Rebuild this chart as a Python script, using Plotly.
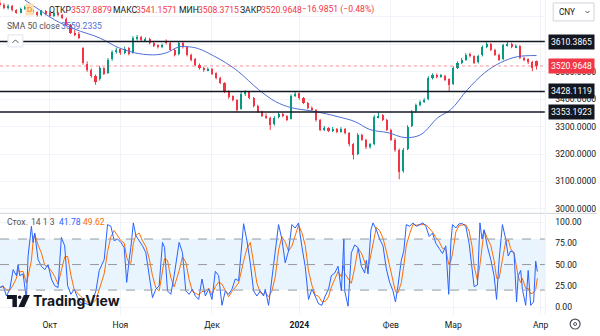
import plotly.graph_objects as go
import pandas as pd

W, H = 600, 336

# ---------------- data ----------------
# trading-day index 0 = mid Sep 2023, 12 = 9 Oct 2023, 129 = 29 Mar 2024
opens = [3752,3745,3731,3741,3724,3716,3730,3737,3726,3717,3706,3723,3716,3703,3716,3708,3694,3670,3641,3636,
         3587,3530,3508,3484,3472,3512,3495,3545,3572,3582,3568,3586,3568,3622,3628,3615,3621,3606,3596,3590,
         3612,3604,3581,3564,3606,3590,3561,3545,3526,3514,3506,3510,3494,3477,3458,3428,3410,3397,3366,3418,
         3425,3404,3375,3354,3339,3332,3308,3334,3346,3339,3328,3412,3421,3404,3386,3368,3360,3324,3288,3295,
         3284,3292,3281,3292,3277,3236,3200,3270,3252,3226,3236,3335,3341,3324,3288,3252,3214,3138,3218,3302,
         3356,3379,3390,3399,3477,3490,3481,3486,3472,3456,3514,3532,3543,3563,3557,3534,3560,3590,3601,3579,
         3561,3546,3597,3603,3590,3594,3550,3545,3535,3537.8879]
highs = [3760,3750,3746,3744,3728,3734,3741,3739,3729,3720,3726,3725,3722,3719,3718,3711,3698,3674,3652,3645,
         3590,3538,3512,3490,3522,3516,3550,3578,3588,3586,3592,3590,3630,3634,3631,3626,3624,3610,3600,3603,
         3618,3608,3585,3612,3610,3594,3566,3550,3530,3518,3516,3514,3498,3482,3462,3432,3414,3400,3428,3432,
         3429,3408,3380,3358,3348,3336,3338,3352,3350,3342,3418,3428,3424,3408,3390,3374,3364,3328,3302,3298,
         3299,3295,3298,3295,3280,3240,3276,3274,3256,3240,3342,3352,3345,3328,3292,3258,3220,3222,3305,3360,
         3384,3396,3404,3484,3494,3493,3492,3489,3476,3520,3538,3550,3568,3570,3560,3562,3596,3608,3605,3584,
         3566,3602,3610,3606,3600,3597,3555,3549,3540,3541.1571]
lows = [3738,3728,3727,3720,3712,3714,3726,3720,3713,3702,3704,3706,3699,3700,3702,3692,3666,3638,3630,3619,
        3526,3500,3478,3453,3468,3488,3492,3540,3566,3562,3564,3560,3566,3614,3610,3610,3600,3590,3585,3586,
        3600,3576,3556,3560,3585,3556,3538,3520,3508,3500,3502,3488,3472,3455,3422,3402,3392,3352,3362,3412,
        3400,3370,3350,3335,3328,3288,3304,3330,3334,3320,3326,3408,3398,3382,3364,3356,3318,3283,3284,3280,
        3280,3276,3278,3272,3228,3180,3196,3248,3218,3220,3232,3330,3320,3284,3248,3208,3108,3132,3214,3298,
        3350,3374,3386,3396,3472,3476,3478,3466,3430,3452,3510,3528,3540,3552,3528,3530,3556,3586,3576,3558,
        3540,3542,3592,3586,3586,3546,3538,3528,3502,3508.3715]
closes = [3744,3733,3740,3725,3718,3729,3736,3725,3718,3707,3722,3711,3704,3715,3707,3696,3671,3642,3635,3624,
          3533,3507,3485,3464,3515,3493,3544,3573,3580,3569,3584,3565,3624,3627,3616,3620,3605,3595,3591,3598,
          3605,3580,3562,3605,3591,3562,3544,3525,3515,3507,3511,3493,3478,3460,3427,3409,3398,3362,3420,3427,
          3405,3376,3355,3340,3333,3307,3333,3347,3340,3325,3413,3420,3405,3387,3369,3362,3325,3289,3296,3285,
          3293,3282,3293,3278,3235,3198,3271,3253,3224,3235,3336,3340,3325,3289,3253,3216,3136,3216,3300,3355,
          3380,3391,3398,3478,3489,3482,3485,3471,3453,3515,3533,3544,3562,3558,3533,3558,3591,3602,3580,3562,
          3544,3598,3602,3591,3595,3551,3544,3536,3515,3520.9648]

# SMA 50 line read at points (day index, value)
sma_t = [6.0, 9.6, 13.2, 17.9, 23.9, 28.7, 33.5, 37.6, 40.0, 43.1, 45.5, 47.8, 51.4, 54.3, 57.4, 62.2, 66.3,
         70.1, 75.8, 81.3, 85.4, 89.0, 93.3, 97.4, 101.2, 105.3, 108.4, 112.4, 116.5, 120.3, 124.4, 129.0]
sma_v = [3762, 3725, 3689, 3656, 3624, 3587, 3566, 3562, 3569, 3591, 3591, 3584, 3558, 3533, 3500, 3435, 3391,
         3369, 3355, 3336, 3318, 3289, 3278, 3260, 3271, 3333, 3362, 3435, 3496, 3533, 3555, 3559.2335]

# Stochastic %K read at points (day index, value)
stoch_t = [0.0,0.8,1.6,2.4,3.2,4.0,4.4,4.8,5.6,6.4,6.8,7.6,8.0,8.4,9.2,10.0,10.8,11.6,12.4,13.2,14.0,14.8,15.6,
           16.3,17.1,17.9,18.7,19.5,20.7,21.9,23.1,23.9,25.1,25.9,26.7,27.5,28.3,29.1,29.9,30.5,31.1,31.5,32.1,
           32.7,33.5,34.3,35.1,35.9,36.7,37.5,38.3,39.1,39.6,40.3,41.1,41.9,43.1,43.9,44.7,45.5,46.3,47.0,47.8,
           48.6,49.4,50.2,51.0,51.8,52.6,53.4,54.2,55.0,55.8,56.6,57.4,58.6,59.4,60.2,61.0,61.8,62.6,63.4,63.8,
           64.6,65.4,66.2,67.0,67.8,68.6,69.4,70.2,71.0,71.8,72.6,73.4,74.2,75.0,75.8,76.6,77.4,78.2,79.0,79.7,
           80.5,81.3,82.1,82.7,82.9,83.7,84.5,85.3,86.1,86.9,87.7,88.1,88.5,89.2,89.7,90.5,91.3,92.1,92.9,93.7,
           94.5,95.1,95.7,96.5,97.1,97.7,98.5,99.3,100.1,100.9,101.7,102.4,103.2,104.0,104.8,105.6,106.4,107.2,
           107.9,108.4,108.8,109.6,110.4,111.2,112.0,112.8,113.5,114.0,114.8,115.4,115.9,116.4,117.2,118.0,118.8,
           119.4,120.0,120.8,121.6,122.2,122.8,123.6,124.2,124.6,125.2,125.6,126.4,127.0,127.6,128.3,128.8,129.2]
stoch_k = [23,25,13,21,44,37,50,37,39,9,60,95,76,87,56,48,44,50,33,25,23,82,72,
           25,15,21,11,5,4,2,19,43,56,97,95,78,80,76,70,29,56,70,99,
           84,78,72,64,36,11,21,25,76,70,19,15,37,76,64,19,15,21,13,9,
           33,13,21,9,42,37,2,19,15,21,33,31,98,78,52,19,13,19,13,21,
           2,33,71,97,80,52,66,97,93,99,71,48,9,21,13,4,2,13,21,37,
           40,48,19,80,19,1,64,73,70,48,40,55,39,91,99,91,80,72,45,29,
           19,6,25,55,66,97,95,99,95,97,99,95,83,87,75,69,63,72,
           15,75,97,93,98,98,95,75,45,24,26,99,80,91,71,56,37,
           9,55,97,80,60,66,64,6,37,43,21,2,43,2,6,54,41.78]

levels = [3610.3865, 3428.1119, 3353.1923]
last_price = 3520.9648

month_idx = [12, 29, 51, 72, 94, 109, 130]
month_txt = ["Окт", "Ноя", "Дек", "<b>2024</b>", "Фев", "Мар", "Апр"]

price_ticks = [3000, 3100, 3200, 3300, 3400, 3500, 3600, 3700]
price_tick_txt = ["3000.0000", "3100.0000", "3200.0000", "3300.0000", "3400.0000", "3500.0000", "", ""]
stoch_ticks = [0, 25, 50, 75, 100]
stoch_tick_txt = ["0.00", "25.00", "50.00", "75.00", "100.00"]

# ---------------- derived ----------------
FONT = "Roboto, Arial, sans-serif"
TXT = "#131722"
RED = "#F23645"
GREEN = "#089981"
BLUE = "#2962FF"
ORANGE = "#FF6D00"
FS = 8.6

idx = list(range(len(closes)))
stoch_d = pd.Series(stoch_k).rolling(3, min_periods=1).mean().tolist()
up = [c >= o for o, c in zip(opens, closes)]
body_base = [min(o, c) for o, c in zip(opens, closes)]
body_len = [max(abs(c - o), 1.2) for o, c in zip(opens, closes)]
body_col = [GREEN if u else RED for u in up]

def wick_xy(want_up):
    xs, ys = [], []
    for i, u in enumerate(up):
        if u == want_up:
            xs += [i, i, None]
            ys += [lows[i], highs[i], None]
    return xs, ys

# ---------------- helpers ----------------
def fx(x):
    return x / W

def fy(y):
    return 1 - y / H

def path(pts):
    return "M " + " L ".join(f"{fx(x):.5f},{fy(y):.5f}" for x, y in pts) + " Z"

PRICE_TOP, PRICE_BOT = 0, 214
ST_TOP, ST_BOT = 214, 316
PLOT_R = 548

fig = go.Figure()

for want_up, col in ((True, GREEN), (False, RED)):
    wx, wy = wick_xy(want_up)
    fig.add_trace(go.Scatter(x=wx, y=wy, mode="lines", line=dict(color=col, width=1),
                             xaxis="x", yaxis="y", showlegend=False, hoverinfo="skip"))
fig.add_trace(go.Bar(x=idx, y=body_len, base=body_base, width=0.5, marker=dict(color=body_col, line=dict(width=0)),
                     xaxis="x", yaxis="y", showlegend=False, hoverinfo="skip"))

fig.add_trace(go.Scatter(x=sma_t, y=sma_v, mode="lines", line=dict(color="#4f6fd6", width=1, shape="spline"),
                         xaxis="x", yaxis="y", showlegend=False, hoverinfo="skip"))

fig.add_trace(go.Scatter(x=stoch_t, y=stoch_d, mode="lines", line=dict(color=ORANGE, width=1),
                         xaxis="x2", yaxis="y2", showlegend=False, hoverinfo="skip"))
fig.add_trace(go.Scatter(x=stoch_t, y=stoch_k, mode="lines", line=dict(color=BLUE, width=1),
                         xaxis="x2", yaxis="y2", showlegend=False, hoverinfo="skip"))

xr = [0.05, 131.1]
shapes = []
shapes.append(dict(type="rect", xref="paper", yref="y2", x0=0, x1=fx(PLOT_R), y0=20, y1=80,
                   fillcolor="rgba(33,150,243,0.10)", line=dict(width=0), layer="below"))
for lv in (80, 50, 20):
    shapes.append(dict(type="line", xref="paper", yref="y2", x0=0, x1=fx(PLOT_R), y0=lv, y1=lv,
                       line=dict(color="#9598a1", width=1, dash="dash")))
for lv in levels:
    shapes.append(dict(type="line", xref="paper", yref="y", x0=0, x1=fx(PLOT_R), y0=lv, y1=lv,
                       line=dict(color=TXT, width=1.6)))
shapes.append(dict(type="line", xref="paper", yref="y", x0=0, x1=fx(PLOT_R), y0=last_price, y1=last_price,
                   line=dict(color="rgba(242,54,69,0.55)", width=1, dash="dot")))
shapes.append(dict(type="line", xref="paper", yref="paper", x0=0, x1=1, y0=fy(ST_TOP), y1=fy(ST_TOP),
                   line=dict(color="#d1d4dc", width=1)))
shapes.append(dict(type="line", xref="paper", yref="paper", x0=fx(PLOT_R), x1=fx(PLOT_R), y0=fy(ST_BOT), y1=1,
                   line=dict(color="#eef0f4", width=1)))
# collapse button
shapes.append(dict(type="rect", xref="paper", yref="paper", x0=fx(8), x1=fx(23), y0=fy(47), y1=fy(35),
                   fillcolor="white", line=dict(color="#e0e3eb", width=1), layer="above"))
shapes.append(dict(type="path", xref="paper", yref="paper",
                   path=f"M {fx(12.5)},{fy(43)} L {fx(15.5)},{fy(40)} L {fx(18.5)},{fy(43)}",
                   line=dict(color="#50535e", width=1), layer="above"))
# CNY box
shapes.append(dict(type="rect", xref="paper", yref="paper", x0=fx(556), x1=fx(597), y0=fy(21), y1=fy(3),
                   fillcolor="white", line=dict(color="#d1d4dc", width=1), layer="above"))
shapes.append(dict(type="path", xref="paper", yref="paper",
                   path=f"M {fx(588.5)},{fy(11)} L {fx(590.5)},{fy(13)} L {fx(592.5)},{fy(11)}",
                   line=dict(color="#50535e", width=1), layer="above"))
# gear icon
shapes.append(dict(type="circle", xref="paper", yref="paper", x0=fx(573), x1=fx(583), y0=fy(330), y1=fy(320),
                   line=dict(color="#50535e", width=1.2), layer="above"))
shapes.append(dict(type="circle", xref="paper", yref="paper", x0=fx(576.5), x1=fx(579.5), y0=fy(326.5), y1=fy(323.5),
                   line=dict(color="#50535e", width=1), layer="above"))
# TradingView logo mark
shapes.append(dict(type="path", xref="paper", yref="paper",
                   path=path([(7, 296), (17, 296), (17, 308), (12.5, 308), (12.5, 300), (7, 300)]),
                   fillcolor=TXT, line=dict(width=0), layer="above"))
shapes.append(dict(type="circle", xref="paper", yref="paper", x0=fx(18), x1=fx(21.6), y0=fy(300), y1=fy(296.4),
                   fillcolor=TXT, line=dict(width=0), layer="above"))
shapes.append(dict(type="path", xref="paper", yref="paper",
                   path=path([(24, 296), (30, 296), (24.5, 308), (18.5, 308)]),
                   fillcolor=TXT, line=dict(width=0), layer="above"))

ann = []

def txt(x, y, s, color=TXT, size=FS, anchor="left", bold=False, family=FONT):
    ann.append(dict(x=fx(x), y=fy(y), xref="paper", yref="paper", text=(f"<b>{s}</b>" if bold else s),
                    showarrow=False, xanchor=anchor, yanchor="middle",
                    font=dict(color=color, size=size, family=family)))

ann.append(dict(x=fx(25), y=fy(10), xref="paper", yref="paper", text="D", showarrow=False,
                xanchor="left", yanchor="middle", bgcolor="#ffe0b2", borderpad=1,
                font=dict(color="#f57c00", size=8, family=FONT)))
txt(47, 10, "ОТКР")
txt(69, 10, "3537.8879", RED)
txt(112, 10, "МАКС")
txt(135, 10, "3541.1571", RED)
txt(178, 10, "МИН")
txt(197, 10, "3508.3715", RED)
txt(239, 10, "ЗАКР")
txt(260, 10, "3520.9648", RED)
txt(302, 10, "−16.9851 (−0.48%)", RED)
txt(5, 26, "SMA 50 close", "#50535e")
txt(59, 26, "3559.2335", "#4f6fd6")
txt(5, 223, "Стох.", "#50535e")
txt(29, 223, "14 1 3", "#50535e")
txt(57, 223, "41.78", BLUE)
txt(81, 223, "49.62", ORANGE)
txt(560, 12, "CNY", TXT, 8.2)
txt(31, 301, "TradingView", TXT, 14, bold=True, family="Inter, Roboto, sans-serif")

for lv in levels:
    ann.append(dict(x=fx(551), y=lv, xref="paper", yref="y", text=f"{lv:.4f}", showarrow=False,
                    xanchor="left", yanchor="middle", bgcolor=TXT, borderpad=2,
                    font=dict(color="white", size=FS, family=FONT)))
ann.append(dict(x=fx(551), y=last_price, xref="paper", yref="y", text=f"{last_price:.4f}", showarrow=False,
                xanchor="left", yanchor="middle", bgcolor=RED, borderpad=2,
                font=dict(color="white", size=FS, family=FONT)))

grid = "#f0f3fa"
fig.update_layout(
    width=W, height=H, margin=dict(l=0, r=0, t=0, b=0),
    paper_bgcolor="white", plot_bgcolor="white",
    shapes=shapes, annotations=ann, showlegend=False, bargap=0,
    xaxis=dict(domain=[0, fx(PLOT_R)], anchor="y", range=xr, tickvals=month_idx, ticktext=month_txt,
               showticklabels=False, showgrid=True, gridcolor=grid, zeroline=False, fixedrange=True),
    xaxis2=dict(domain=[0, fx(PLOT_R)], anchor="y2", range=xr, matches="x", tickvals=month_idx,
                ticktext=month_txt, showgrid=True, gridcolor=grid, zeroline=False,
                tickfont=dict(color=TXT, size=FS, family=FONT), ticks="", ticklabelstandoff=3),
    yaxis=dict(domain=[fy(PRICE_BOT), fy(PRICE_TOP)], anchor="x", side="right", range=[2983.6, 3761.8],
               tickvals=price_ticks, ticktext=price_tick_txt, showgrid=True, gridcolor=grid, zeroline=False,
               tickfont=dict(color=TXT, size=FS, family=FONT), ticks="", ticklabelstandoff=9),
    yaxis2=dict(domain=[fy(ST_BOT), fy(ST_TOP)], anchor="x2", side="right", range=[-9.4, 110.2],
                tickvals=stoch_ticks, ticktext=stoch_tick_txt, showgrid=True, gridcolor=grid, zeroline=False,
                tickfont=dict(color=TXT, size=FS, family=FONT), ticks="", ticklabelstandoff=9),
)

fig.write_html("out.html")
